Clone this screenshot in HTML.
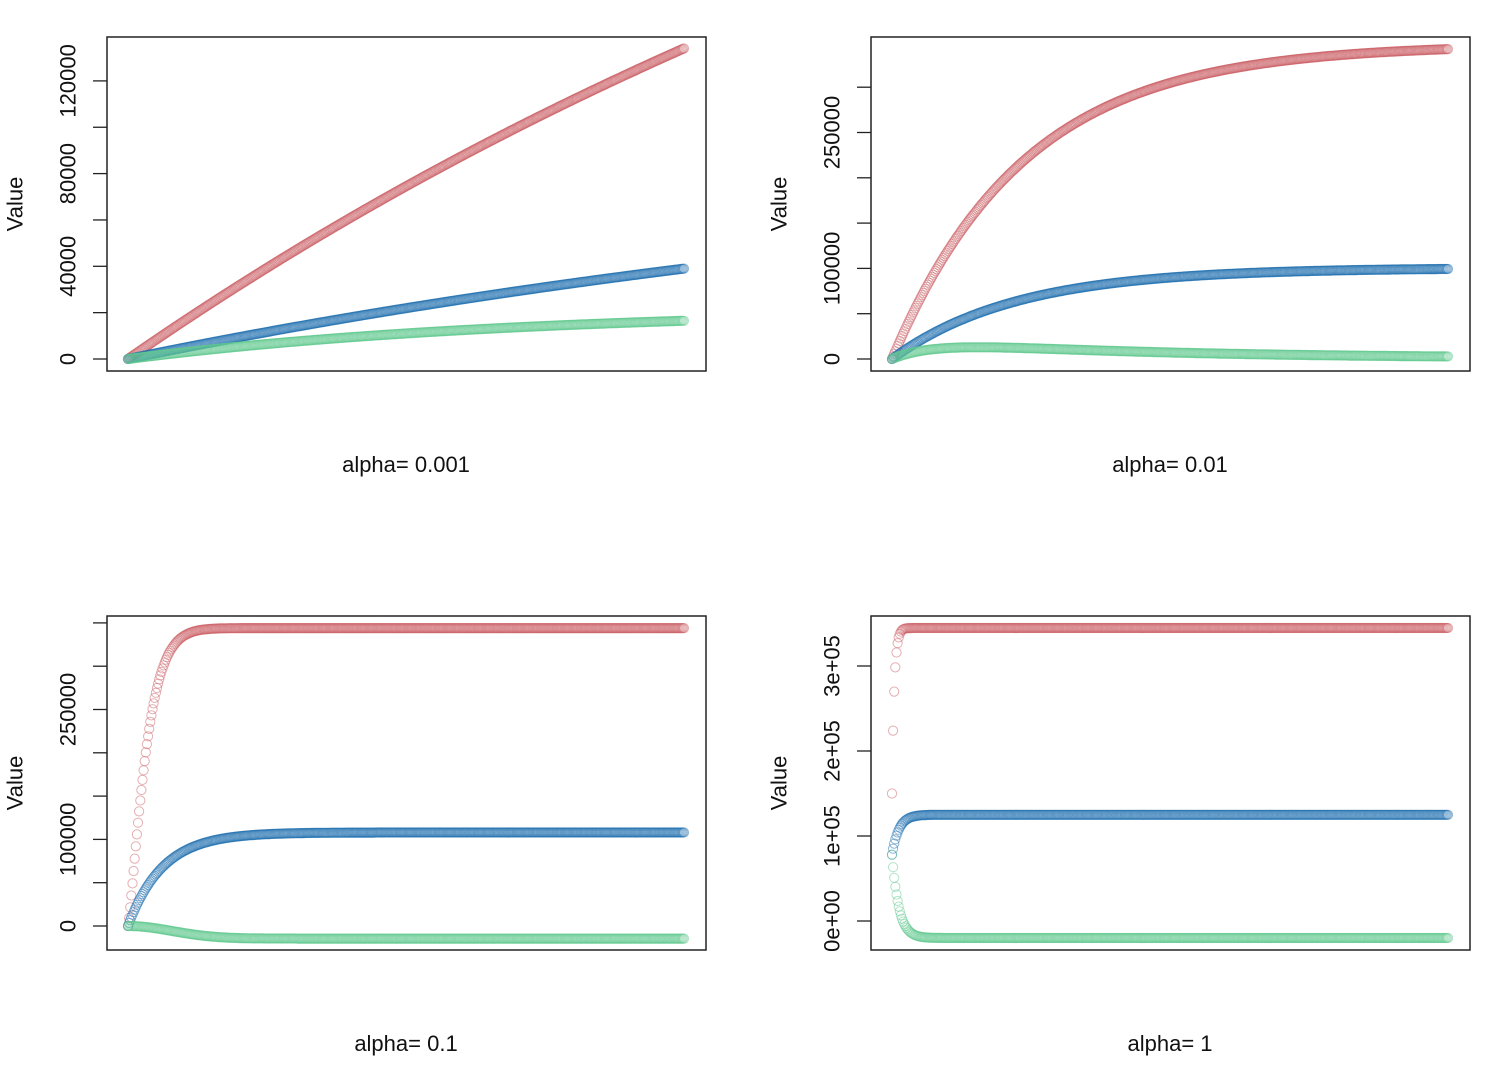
<!DOCTYPE html>
<html><head><meta charset="utf-8"><style>
html,body{margin:0;padding:0;background:#fff;}
svg{display:block;font-family:"Liberation Sans",Arial,sans-serif;}
</style></head><body>
<svg id="s" width="1500" height="1070" xmlns="http://www.w3.org/2000/svg"></svg>
<script>
const S=document.getElementById('s');
let h='';
const RED='#cc5f66',BLUE='#1f6fb0',GREEN='#62c98f';
function panel(bx,by,y0,scale,ticks,labels,title,fns){
  const bw=599,bh=334;
  const N=500;
  const cols=[RED,BLUE,GREEN];
  fns.forEach((f,k)=>{
    for(let i=0;i<N;i++){
      const t=i/(N-1);
      const x=bx+21+t*556;
      const y=y0-f(t,i)*scale;
      h+=`<circle cx="${x.toFixed(1)}" cy="${y.toFixed(1)}" r="4.6" fill="none" stroke="${cols[k]}" stroke-width="1" stroke-opacity="0.5"/>`;
    }
  });
  h+=`<rect x="${bx}" y="${by}" width="${bw}" height="${bh}" fill="none" stroke="#222" stroke-width="1.5"/>`;
  ticks.forEach(v=>{
    const y=y0-v*scale;
    h+=`<line x1="${bx-14}" x2="${bx}" y1="${y}" y2="${y}" stroke="#222" stroke-width="1.3"/>`;
  });
  labels.forEach(([v,s])=>{
    const y=y0-v*scale;
    h+=`<text x="0" y="0" transform="translate(${bx-39},${y}) rotate(-90)" text-anchor="middle" dominant-baseline="central" font-size="22" fill="#111">${s}</text>`;
  });
  h+=`<text transform="translate(${bx-92},${by+167}) rotate(-90)" text-anchor="middle" dominant-baseline="central" font-size="22" fill="#111">Value</text>`;
  h+=`<text x="${bx+299}" y="${by+435}" text-anchor="middle" font-size="22" fill="#111">${title}</text>`;
}
const sat=(k)=>(t)=>(1-Math.exp(-k*t));
panel(107,37,359,92.7/40000,[0,20000,40000,60000,80000,100000,120000],
 [[0,'0'],[40000,'40000'],[80000,'80000'],[120000,'120000']],'alpha= 0.001',
 [t=>134000*sat(0.45)(t)/sat(0.45)(1), t=>39000*sat(0.5)(t)/sat(0.5)(1), t=>16500*sat(1.4)(t)/sat(1.4)(1)]);
panel(871,37,359,45.3/50000,[0,50000,100000,150000,200000,250000,300000],
 [[0,'0'],[100000,'100000'],[250000,'250000']],'alpha= 0.01',
 [t=>342000*sat(4.2)(t)/sat(4.2)(1), t=>100500*sat(4.5)(t), t=>22000*(Math.exp(-2.5*t)-Math.exp(-14*t))+1000*sat(5)(t)]);
panel(107,616,926,43.3/50000,[0,50000,100000,150000,200000,250000,300000,350000],
 [[0,'0'],[100000,'100000'],[250000,'250000']],'alpha= 0.1',
 [t=>344000*(1-Math.exp(-Math.pow(28*t,1.25))), t=>108000*sat(16)(t), t=>-14500*(1-Math.exp(-Math.pow(9*t,2)))]);
panel(871,616,921,85/100000,[0,100000,200000,300000],
 [[0,'0e+00'],[100000,'1e+05'],[200000,'2e+05'],[300000,'3e+05']],'alpha= 1',
 [(t,i)=>344700-194700*Math.pow(0.62,i), (t,i)=>125000-47000*Math.pow(0.85,i), (t,i)=>-20000+98000*Math.pow(0.85,i)]);
S.innerHTML=h;
</script>
</body></html>
